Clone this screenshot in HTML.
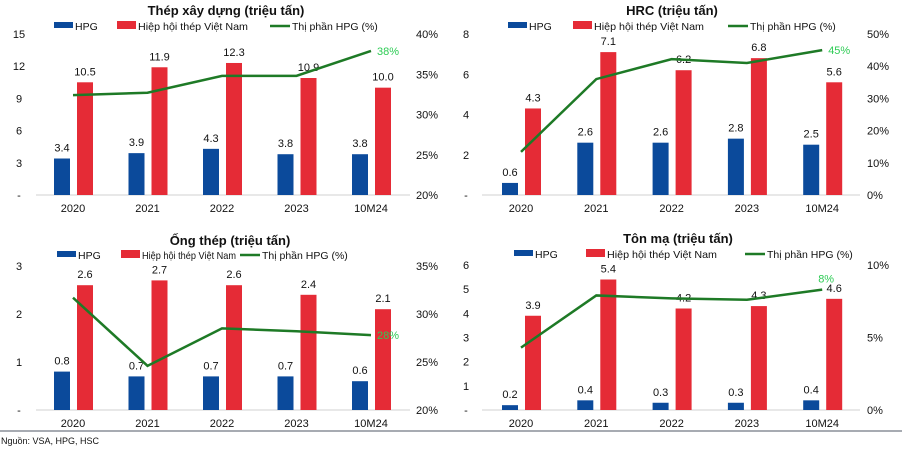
<!DOCTYPE html>
<html><head><meta charset="utf-8"><style>
html,body{margin:0;padding:0;background:#fff;}
svg{display:block;font-family:"Liberation Sans","Noto Sans CJK SC",sans-serif;}
</style></head><body>
<svg id="root" width="913" height="455" viewBox="0 0 913 455"></svg>
<script>
const categories = ["2020","2021","2022","2023","10M24"];
// Chart 1: Thép xây dựng
const c1Hpg = [3.4,3.9,4.3,3.8,3.8];
const c1Vsa = [10.5,11.9,12.3,10.9,10.0];
const c1Share = [32.4,32.7,34.8,34.8,37.9];
const c1LeftTicks = ["-","3","6","9","12","15"];
const c1RightTicks = ["20%","25%","30%","35%","40%"];
// Chart 2: HRC
const c2Hpg = [0.6,2.6,2.6,2.8,2.5];
const c2Vsa = [4.3,7.1,6.2,6.8,5.6];
const c2Share = [13.4,36,42.2,41,45];
const c2LeftTicks = ["-","2","4","6","8"];
const c2RightTicks = ["0%","10%","20%","30%","40%","50%"];
// Chart 3: Ống thép
const c3Hpg = [0.8,0.7,0.7,0.7,0.6];
const c3Vsa = [2.6,2.7,2.6,2.4,2.1];
const c3Share = [31.7,24.6,28.5,28.2,27.8];
const c3LeftTicks = ["-","1","2","3"];
const c3RightTicks = ["20%","25%","30%","35%"];
// Chart 4: Tôn mạ
const c4Hpg = [0.2,0.4,0.3,0.3,0.4];
const c4Vsa = [3.9,5.4,4.2,4.3,4.6];
const c4Share = [4.3,7.9,7.7,7.6,8.3];
const c4LeftTicks = ["-","1","2","3","4","5","6"];
const c4RightTicks = ["0%","5%","10%"];
const c1ShareLabel = "38%", c2ShareLabel = "45%", c3ShareLabel = "28%", c4ShareLabel = "8%";

const NS="http://www.w3.org/2000/svg";
const root=document.getElementById('root');
function el(tag,attrs,parent,text){const e=document.createElementNS(NS,tag);for(const k in attrs)e.setAttribute(k,attrs[k]);if(text!==undefined)e.textContent=text;(parent||root).appendChild(e);return e;}

function chart(cfg){
  const g=el('g',{});
  
  
  const {top,bottom,x0,step,lmax,rmin,rmax}=cfg;
  const yL=v=>bottom-(v/lmax)*(bottom-top);
  const yR=v=>bottom-((v-rmin)/(rmax-rmin))*(bottom-top);
  const xC=i=>x0+i*step;
  const t=el('text',{x:cfg.titleX,y:cfg.titleY,'text-anchor':'middle','font-size':13,'font-weight':'bold',fill:'#111'},g,cfg.title);
  
  
  const L=cfg.legend, ly=cfg.legendY;
  const lg=el('g',{},g);
  
  
  el('rect',{x:L[0],y:ly-8,width:19,height:6,fill:'#0b4a9b'},lg);
  el('text',{x:L[0]+21,y:ly,'font-size':10.5,fill:'#111'},lg,'HPG');
  el('rect',{x:L[1],y:ly-9,width:19,height:8,fill:'#e52b36'},lg);
  el('text',{x:L[1]+21,y:ly,'font-size':10.5,fill:'#111',textLength:cfg.legTL||113,lengthAdjust:'spacingAndGlyphs'},lg,'Hiệp hội thép Việt Nam');
  el('line',{x1:L[2],y1:ly-4,x2:L[2]+20,y2:ly-4,stroke:'#1e7a26','stroke-width':2.5},lg);
  el('text',{x:L[2]+22,y:ly,'font-size':10.5,fill:'#111'},lg,'Thị phần HPG (%)');
  cfg.lt.forEach((s,i)=>{const v=i*lmax/(cfg.lt.length-1);
    const e=el('text',{x:cfg.ltX,y:yL(v)+4,'text-anchor':'middle','font-size':11,fill:'#111'},g,s);
    
    });
  cfg.rt.forEach((s,i)=>{const v=rmin+i*(rmax-rmin)/(cfg.rt.length-1);
    const e=el('text',{x:cfg.rtX,y:yR(v)+4,'font-size':11,fill:'#111'},g,s);
    
    });
  el('line',{x1:cfg.ax0,y1:bottom,x2:cfg.ax1,y2:bottom,stroke:'#d0d0d0','stroke-width':1},g);
  categories.forEach((c,i)=>{
    const cx=xC(i);
    const b=el('rect',{x:cx-19,y:yL(cfg.hpg[i]),width:16,height:bottom-yL(cfg.hpg[i]),fill:'#0b4a9b'},g);
    
    
    const r=el('rect',{x:cx+4,y:yL(cfg.vsa[i]),width:16,height:bottom-yL(cfg.vsa[i]),fill:'#e52b36'},g);
    
    
    el('text',{x:cx-11,y:yL(cfg.hpg[i])-7,'text-anchor':'middle','font-size':11,fill:'#111'},g,cfg.hpg[i].toFixed(1));
    el('text',{x:cx+12,y:yL(cfg.vsa[i])-7,'text-anchor':'middle','font-size':11,fill:'#111'},g,cfg.vsa[i].toFixed(1));
    const xl=el('text',{x:cx,y:bottom+17,'text-anchor':'middle','font-size':11,fill:'#111'},g,c);
    
    
  });
  const pts=cfg.share.map((v,i)=>xC(i)+','+yR(v)).join(' ');
  const pl=el('polyline',{points:pts,fill:'none',stroke:'#1e7a26','stroke-width':2.5},g);
  
  
  const n=cfg.share.length-1;
  el('text',{x:xC(n)+cfg.sl[0],y:yR(cfg.share[n])+cfg.sl[1],'font-size':11,fill:'#2ecc55'},g,cfg.shareLabel);
}
chart({name:'chart-thep-xay-dung',title:'Thép xây dựng (triệu tấn)',titleX:226,titleY:15,legendY:30,legend:[54,117,270],legTL:110,
  top:34,bottom:195,x0:73,step:74.5,lmax:15,rmin:20,rmax:40,lt:c1LeftTicks,rt:c1RightTicks,ltX:19,rtX:416,ax0:36,ax1:410,
  hpg:c1Hpg,vsa:c1Vsa,share:c1Share,shareLabel:c1ShareLabel,sl:[6,4]});
chart({name:'chart-hrc',title:'HRC (triệu tấn)',titleX:672,titleY:15,legendY:30,legend:[508,573,728],legTL:110,
  top:34,bottom:195,x0:521,step:75.3,lmax:8,rmin:0,rmax:50,lt:c2LeftTicks,rt:c2RightTicks,ltX:466,rtX:867,ax0:482,ax1:860,
  hpg:c2Hpg,vsa:c2Vsa,share:c2Share,shareLabel:c2ShareLabel,sl:[6,4]});
chart({name:'chart-ong-thep',title:'Ống thép (triệu tấn)',titleX:230,titleY:245,legendY:259,legend:[57,121,240],legTL:94,
  top:266,bottom:410,x0:73,step:74.5,lmax:3,rmin:20,rmax:35,lt:c3LeftTicks,rt:c3RightTicks,ltX:19,rtX:416,ax0:36,ax1:410,
  hpg:c3Hpg,vsa:c3Vsa,share:c3Share,shareLabel:c3ShareLabel,sl:[6,4]});
chart({name:'chart-ton-ma',title:'Tôn mạ (triệu tấn)',titleX:678,titleY:243,legendY:258,legend:[514,586,745],legTL:110,
  top:265,bottom:410,x0:521,step:75.3,lmax:6,rmin:0,rmax:10,lt:c4LeftTicks,rt:c4RightTicks,ltX:466,rtX:867,ax0:482,ax1:860,
  hpg:c4Hpg,vsa:c4Vsa,share:c4Share,shareLabel:c4ShareLabel,sl:[-4,-7]});
const sep=el('line',{x1:0,y1:431,x2:902,y2:431,stroke:'#8a8f99','stroke-width':1.5});


const src=el('text',{x:1,y:444,'font-size':9,fill:'#111'},root,'Nguồn: VSA, HPG, HSC');


</script>
</body></html>
